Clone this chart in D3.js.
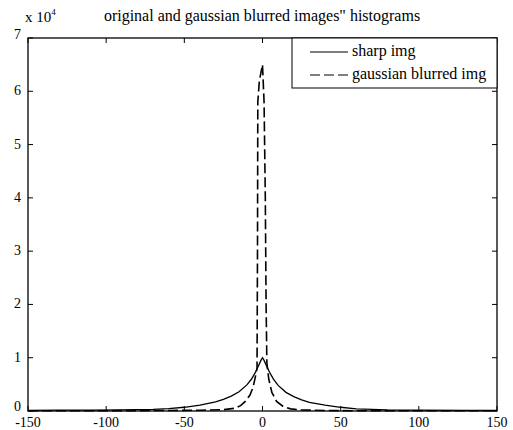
<!DOCTYPE html>
<html>
<head>
<meta charset="utf-8">
<script src="https://cdn.jsdelivr.net/npm/d3@7"></script>
<style>
  body { margin: 0; background: #fff; }
  svg text { font-family: "Liberation Serif", "DejaVu Serif", serif; fill: #000; }
</style>
</head>
<body>
<div id="chart"></div>
<script>
// values (y in units of 1e4 on the axis)
const sharpX = [-150, -130, -110, -90, -70, -60, -50, -40, -30, -25, -20, -15, -10, -7, -5, -3, -1, 0, 1, 3, 5, 7, 10, 15, 20, 25, 30, 40, 50, 60, 80, 100, 130, 150];
const sharpY = [100, 150, 150, 200, 300, 450, 700, 1100, 1700, 2200, 2800, 3600, 4900, 6000, 7000, 8200, 9500, 10000, 9500, 8200, 7000, 6000, 4800, 3500, 2700, 2100, 1600, 1100, 700, 400, 200, 150, 100, 100];

const blurX = [-150, -100, -60, -40, -25, -18, -14, -11, -8, -6, -4.5, -3.5, -3.2, -3, -2, 0, 1, 1.8, 2.3, 2.8, 4, 6, 9, 13, 18, 25, 40, 60, 100, 150];
const blurY = [50, 50, 100, 150, 250, 500, 1000, 1800, 3000, 4500, 6500, 8000, 30000, 58000, 62000, 65000, 58000, 40000, 20000, 9000, 6000, 3500, 1800, 900, 400, 200, 100, 50, 50, 50];

const xTicks = [-150, -100, -50, 0, 50, 100, 150];
const yTicks = [0, 1, 2, 3, 4, 5, 6, 7];
const legendLabels = ["sharp img", "gaussian blurred img"];
const titleText = "original and gaussian blurred images\" histograms";

const width = 513, height = 430;
const margin = { left: 28, right: 16, top: 38, bottom: 19 };

const svg = d3.select("#chart").append("svg")
    .attr("width", width)
    .attr("height", height);

const x = d3.scaleLinear().domain([-150, 150]).range([margin.left, width - margin.right]);
const y = d3.scaleLinear().domain([0, 70000]).range([height - margin.bottom, margin.top]);

const g = svg.append("g");

// plot frame
g.append("rect")
    .attr("x", x(-150)).attr("y", y(70000))
    .attr("width", x(150) - x(-150)).attr("height", y(0) - y(70000))
    .attr("fill", "none").attr("stroke", "#000").attr("stroke-width", 1.3);

// ticks pointing inward, on all four sides
const tl = 5;
xTicks.forEach(t => {
    g.append("line").attr("x1", x(t)).attr("x2", x(t)).attr("y1", y(0)).attr("y2", y(0) - tl).attr("stroke", "#000");
    g.append("line").attr("x1", x(t)).attr("x2", x(t)).attr("y1", y(70000)).attr("y2", y(70000) + tl).attr("stroke", "#000");
    g.append("text").attr("x", x(t)).attr("y", y(0) + 16)
        .attr("text-anchor", "middle").attr("font-size", 14).text(t);
});
yTicks.forEach(t => {
    const off = t === 7 ? 1 : (t === 0 ? 0 : 4);
    g.append("line").attr("x1", x(-150)).attr("x2", x(-150) + tl).attr("y1", y(t * 1e4)).attr("y2", y(t * 1e4)).attr("stroke", "#000");
    g.append("line").attr("x1", x(150)).attr("x2", x(150) - tl).attr("y1", y(t * 1e4)).attr("y2", y(t * 1e4)).attr("stroke", "#000");
    g.append("text").attr("x", x(-150) - 7).attr("y", y(t * 1e4) + off)
        .attr("text-anchor", "end").attr("font-size", 14).text(t);
});

// exponent label
const ex = g.append("text").attr("x", 25).attr("y", 22).attr("font-size", 15);
ex.append("tspan").text("x 10");
ex.append("tspan").attr("dy", -7).attr("font-size", 9).text("4");

// title
svg.append("text").attr("x", 262).attr("y", 21)
    .attr("text-anchor", "middle").attr("font-size", 16).text(titleText);

const line = d3.line().x(d => x(d[0])).y(d => y(d[1]));

g.append("path")
    .datum(sharpX.map((v, i) => [v, sharpY[i]]))
    .attr("d", line)
    .attr("fill", "none").attr("stroke", "#000").attr("stroke-width", 1.3);

g.append("path")
    .datum(blurX.map((v, i) => [v, blurY[i]]))
    .attr("d", line)
    .attr("fill", "none").attr("stroke", "#000").attr("stroke-width", 1.6)
    .attr("stroke-dasharray", "10,4");

// legend
const lg = svg.append("g");
const lx = 292, ly = y(70000), lw = x(150) - 292, lh = 50;
lg.append("rect").attr("x", lx).attr("y", ly).attr("width", lw).attr("height", lh)
    .attr("fill", "#fff").attr("stroke", "#000");
legendLabels.forEach((lab, i) => {
    const yy = ly + 14 + i * 23;
    lg.append("line").attr("x1", 310).attr("x2", 348).attr("y1", yy).attr("y2", yy)
        .attr("stroke", "#000").attr("stroke-width", 1.2)
        .attr("stroke-dasharray", i === 1 ? "10,4" : null);
    lg.append("text").attr("x", 352).attr("y", yy + 4).attr("font-size", 16).text(lab);
});
</script>
</body>
</html>
